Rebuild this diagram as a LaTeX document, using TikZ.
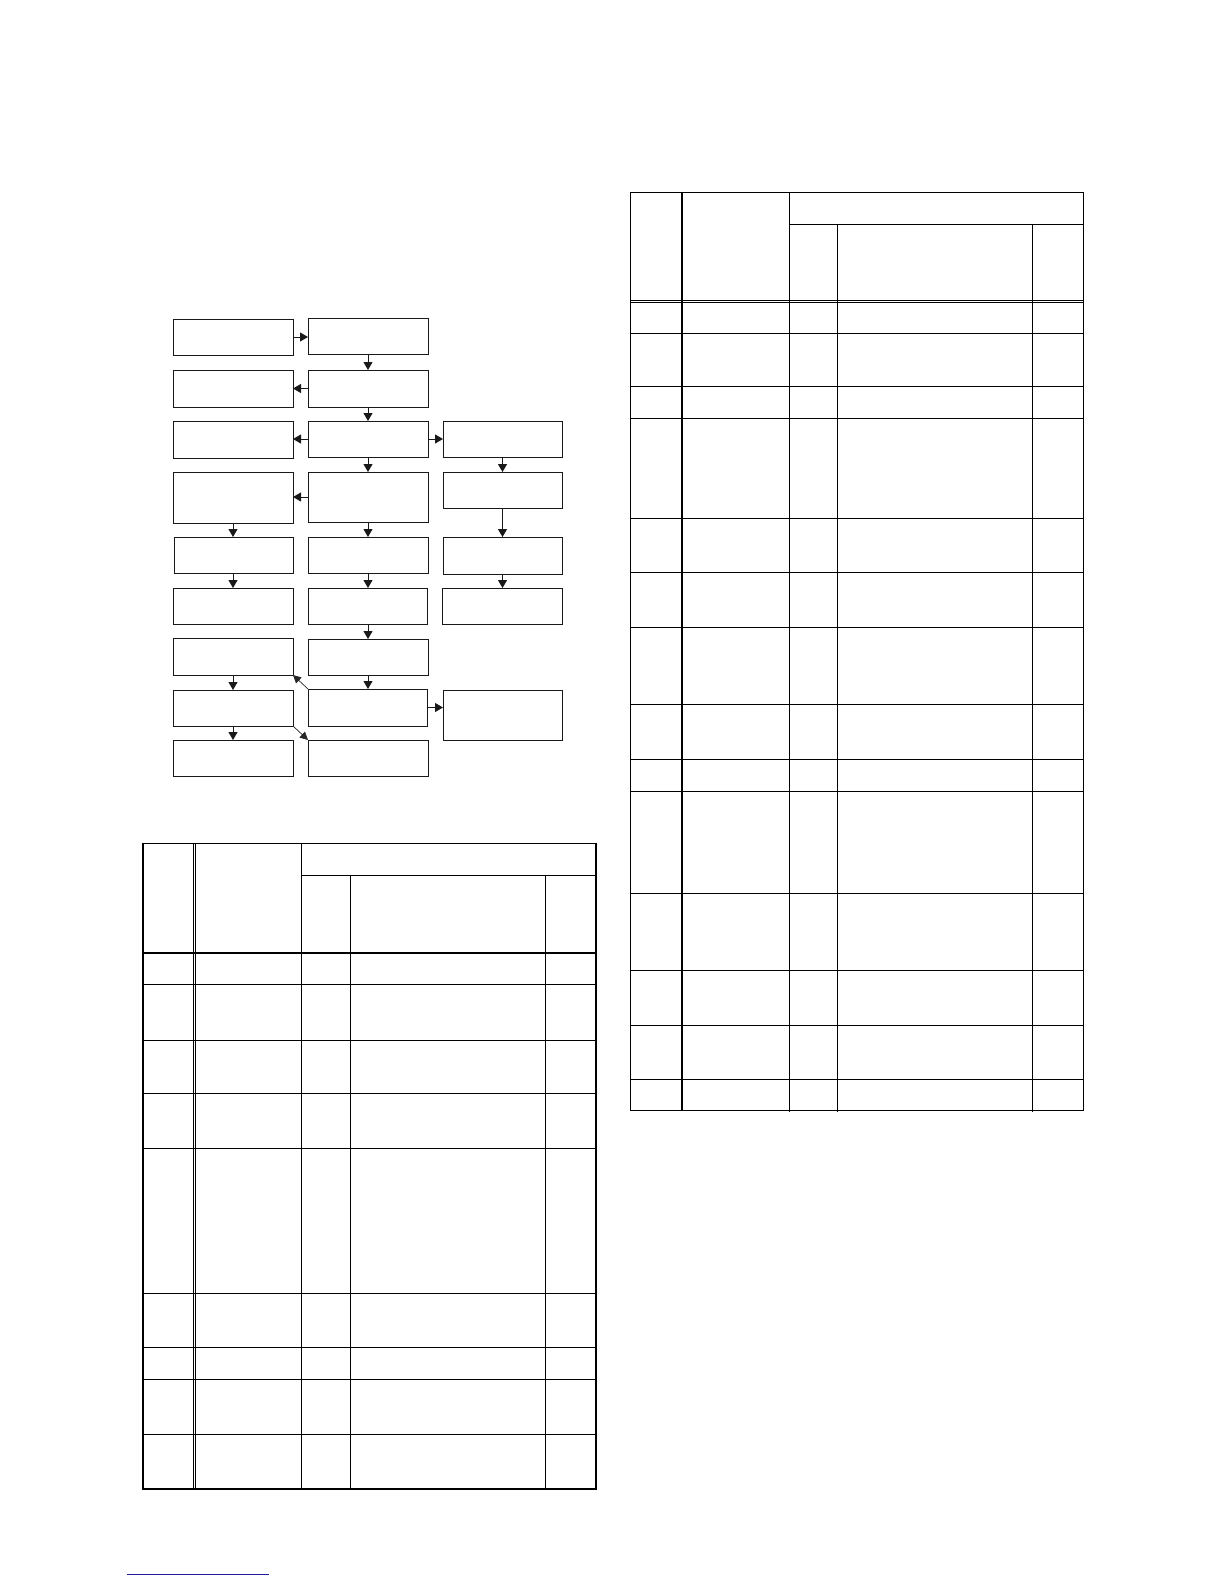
\documentclass[tikz,border=0pt]{standalone}
\usetikzlibrary{arrows.meta}
\begin{document}
\begin{tikzpicture}[x=1pt,y=-1pt,
  box/.style={draw=black!90,line width=0.9pt,rectangle,inner sep=0pt,outer sep=0pt,anchor=north west},
  arr/.style={draw=black!90,line width=0.9pt,-{Triangle[length=8pt,width=9pt]}},
  thinarr/.style={draw=black!85,line width=0.7pt,-{Triangle[length=8pt,width=8pt]}},
  tl/.style={line width=0.9pt},
  tk/.style={line width=1.8pt},
  dl/.style={line width=0.8pt}]
\fill[white] (0,0) rectangle (1224,1584);
\useasboundingbox (0,0) rectangle (1224,1584);
% ---------- flowchart ----------
\def\mkbox#1#2#3#4#5{\node[box,minimum width=#4pt,minimum height=#5pt] (#1) at (#2,#3) {};}
\mkbox{aA}{173}{319}{120}{36}
\mkbox{bA}{308}{318}{120}{36}
\mkbox{aB}{173}{370}{120}{37}
\mkbox{bB}{308}{370}{120}{37}
\mkbox{aC}{173}{421}{120}{37}
\mkbox{bC}{308}{421}{120}{36}
\mkbox{cC}{443}{421}{119}{36}
\mkbox{aD}{173}{472}{120}{51}
\mkbox{bD}{308}{472}{120}{50}
\mkbox{cD}{443}{472}{119}{36}
\mkbox{aE}{174}{537}{119}{36}
\mkbox{bE}{308}{537}{120}{36}
\mkbox{cE}{443}{537}{119}{37}
\mkbox{aF}{173}{588}{120}{36}
\mkbox{bF}{308}{588}{119}{36}
\mkbox{cF}{442}{588}{120}{36}
\mkbox{aG}{173}{638}{120}{37}
\mkbox{bG}{308}{639}{120}{36}
\mkbox{aH}{173}{690}{120}{36}
\mkbox{bH}{308}{689}{119}{37}
\mkbox{cH}{443}{690}{119}{50}
\mkbox{aI}{173}{740}{120}{36}
\mkbox{bI}{308}{740}{120}{36}
% arrows
\draw[arr] (aA.east) -- (bA.west |- aA.east);
\draw[arr] (bA.south) -- (bB.north);
\draw[arr] (bB.west) -- (aB.east |- bB.west);
\draw[arr] (bB.south) -- (bC.north);
\draw[arr] (bC.west) -- (aC.east |- bC.west);
\draw[arr] (bC.east) -- (cC.west |- bC.east);
\draw[arr] (bC.south) -- (bD.north);
\draw[arr] (cC.south) -- (cD.north);
\draw[arr] (bD.west) -- (aD.east |- bD.west);
\draw[arr] (aD.south) -- (aE.north -| aD.south);
\draw[arr] (bD.south) -- (bE.north);
\draw[arr] (cD.south) -- (cE.north);
\draw[arr] (aE.south -| aD.south) -- (aF.north);
\draw[arr] (bE.south) -- (bF.north -| bE.south);
\draw[arr] (cE.south) -- (cF.north -| cE.south);
\draw[arr] (bF.south -| bE.south) -- (bG.north -| bE.south);
\draw[arr] (aG.south) -- (aH.north);
\draw[arr] (bG.south) -- (bH.north -| bG.south);
\draw[arr] (bH.east) -- (cH.west |- bH.east);
\draw[thinarr] (bH.north west) -- (aG.south east);
\draw[arr] (aH.south) -- (aI.north);
\draw[thinarr] (aH.south east) -- (bI.north west);
% ---------- left table ----------
\draw[tl] (142.7,843.3) -- (595.7,843.3);
\draw[tl] (301.3,875.3) -- (595.7,875.3);
\draw[tk] (142.7,952.7) -- (595.7,952.7);
\foreach \yy in {984.3,1040,1093.3,1148.3,1293.3,1347.3,1379.3,1434}
  \draw[tl] (142.7,\yy) -- (595.7,\yy);
\draw[tk] (142.7,1489) -- (595.7,1489);
\draw[tk] (142.7,842.5) -- (142.7,1489.9);
\draw[tk] (595.7,842.5) -- (595.7,1489.9);
\draw[dl] (193.3,843.3) -- (193.3,1489);
\draw[dl] (195.6,843.3) -- (195.6,1489);
\draw[tl] (301.3,843.3) -- (301.3,1489);
\draw[tl] (350.3,875.3) -- (350.3,1489);
\draw[tl] (545.3,875.3) -- (545.3,1489);
% ---------- right table ----------
\draw[line width=1.6pt] (630.7,192.3) -- (1083.3,192.3);
\draw[tl] (789.3,224) -- (1083.3,224);
\draw[dl] (630.7,300.3) -- (1083.3,300.3);
\draw[dl] (630.7,302.6) -- (1083.3,302.6);
\foreach \yy in {333.7,386,418.3,518.3,572.3,627.3,704.3,759.3,791.3,893.7,970,1025,1079.3}
  \draw[tl] (630.7,\yy) -- (1083.3,\yy);
\draw[line width=1pt] (630.7,1110.7) -- (1083.3,1110.7);
\draw[line width=1pt] (630.7,191.5) -- (630.7,1111.2);
\draw[line width=1pt] (1083.3,191.5) -- (1083.3,1111.2);
\draw[tk] (681.7,192.3) -- (681.7,1110.7);
\draw[tl] (789.3,192.3) -- (789.3,1112);
\draw[tl] (837.3,224) -- (837.3,1112);
\draw[tl] (1032.3,224) -- (1032.3,1112);
% ---------- blue rule ----------
\definecolor{navyline}{RGB}{30,30,150}
\draw[navyline,line width=1pt] (127.3,1574.7) -- (269,1574.7);
\end{tikzpicture}
\end{document}
